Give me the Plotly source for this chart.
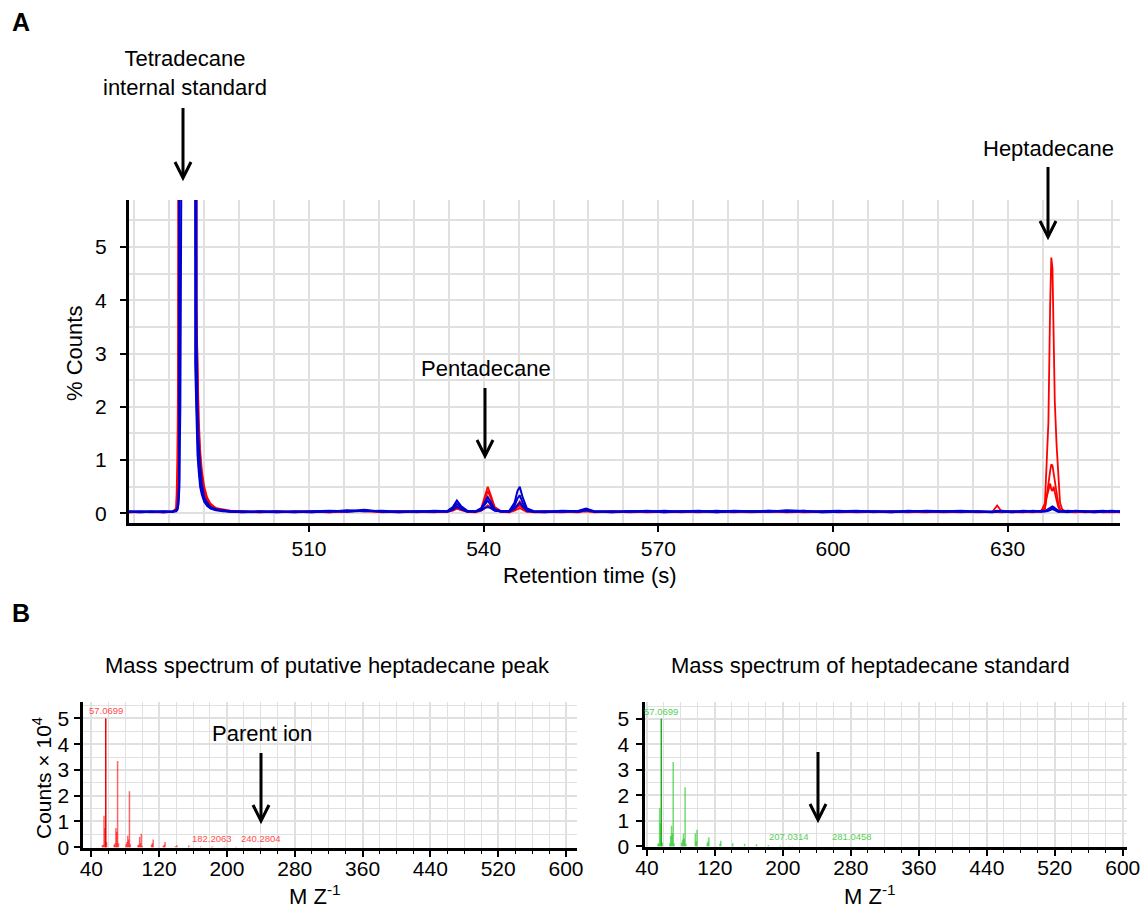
import plotly.graph_objects as go

W, H = 1145, 913
FONT = "Arial, 'Liberation Sans', sans-serif"
GRID = "#e0e0e0"


def px(x):
    return x / W


def py(y):
    return 1 - y / H


# ---------------- Panel A: chromatograms (% counts vs retention time) ----------------
time_s = [
    479.0, 481.0, 483.0, 485.0, 486.6, 487.2, 487.4, 487.55, 487.7, 487.9, 490.2, 490.45,
    490.65, 490.85, 491.05, 491.3, 491.6, 492.0, 492.5, 493.1, 494.0, 495.2, 496.5,
    498.5, 501.5, 504.5, 507.5, 510.5, 513.5, 516.5, 519.5, 522.5, 525.5, 528.5, 531.5,
    533.8, 534.7, 535.4, 536.1, 537.2, 538.6, 539.6, 540.2, 540.7, 541.2, 541.9, 543.0,
    544.4, 545.3, 545.8, 546.2, 546.7, 547.4, 548.6,
    550.5, 553.5, 556.3, 557.6, 559.0, 562.0, 565.0, 568.0, 571.0, 574.0, 577.0, 580.0,
    583.0, 586.0, 589.0, 592.0, 595.0, 598.0, 601.0, 604.0, 607.0, 610.0, 613.0, 616.0,
    619.0, 622.0, 625.0,
    627.4, 628.2, 629.0, 630.8, 632.6, 634.4, 635.8, 636.4, 636.7, 637.0, 637.3, 637.5,
    637.7, 637.9, 638.1, 638.4, 638.7, 639.0, 639.4, 640.2, 641.6, 643.2, 644.8, 646.4,
    648.0, 649.5,
]

red_1 = [
    0.02, 0.03, 0.02, 0.03, 0.03, 0.10, 1.00, 3.40, 60, 60, 60, 60,
    3.80, 2.40, 1.60, 1.00, 0.70, 0.40, 0.25, 0.16, 0.10, 0.07, 0.05,
    0.03, 0.02, 0.04, 0.02, 0.03, 0.02, 0.04, 0.05, 0.03, 0.02, 0.03, 0.02,
    0.04, 0.08, 0.14, 0.09, 0.04, 0.03, 0.10, 0.30, 0.50, 0.35, 0.12, 0.04,
    0.03, 0.08, 0.16, 0.22, 0.14, 0.06, 0.03,
    0.03, 0.02, 0.04, 0.05, 0.03, 0.02, 0.03, 0.04, 0.02, 0.03, 0.02, 0.04,
    0.03, 0.02, 0.03, 0.04, 0.02, 0.03, 0.04, 0.02, 0.03, 0.02, 0.04, 0.03,
    0.02, 0.03, 0.02,
    0.03, 0.15, 0.03, 0.02, 0.03, 0.02, 0.05, 0.19, 0.94, 1.70, 3.90, 4.80,
    4.60, 3.20, 2.10, 1.30, 0.60, 0.20, 0.07, 0.03, 0.02, 0.03, 0.02, 0.03,
    0.02, 0.03,
]
red_2 = [
    0.03, 0.02, 0.03, 0.02, 0.04, 0.08, 0.60, 2.50, 60, 60, 60, 60,
    3.00, 2.00, 1.30, 0.80, 0.50, 0.30, 0.20, 0.12, 0.08, 0.05, 0.03,
    0.02, 0.04, 0.02, 0.03, 0.02, 0.04, 0.03, 0.06, 0.02, 0.03, 0.02, 0.04,
    0.03, 0.07, 0.12, 0.08, 0.03, 0.04, 0.08, 0.25, 0.42, 0.30, 0.10, 0.03,
    0.04, 0.06, 0.12, 0.15, 0.10, 0.04, 0.02,
    0.02, 0.04, 0.03, 0.04, 0.02, 0.03, 0.04, 0.02, 0.03, 0.04, 0.03, 0.02,
    0.04, 0.03, 0.05, 0.02, 0.03, 0.04, 0.02, 0.03, 0.04, 0.03, 0.02, 0.04,
    0.03, 0.02, 0.04,
    0.02, 0.04, 0.03, 0.03, 0.02, 0.04, 0.04, 0.10, 0.30, 0.55, 0.80, 0.92,
    0.90, 0.75, 0.60, 0.38, 0.18, 0.08, 0.04, 0.03, 0.04, 0.02, 0.03, 0.04,
    0.03, 0.02,
]
red_3 = [
    0.02, 0.03, 0.03, 0.02, 0.03, 0.06, 0.30, 1.20, 60, 60, 60, 60,
    3.90, 2.60, 1.80, 1.20, 0.80, 0.50, 0.30, 0.18, 0.10, 0.06, 0.04,
    0.04, 0.02, 0.03, 0.03, 0.04, 0.02, 0.05, 0.04, 0.03, 0.04, 0.03, 0.03,
    0.03, 0.05, 0.09, 0.06, 0.03, 0.02, 0.05, 0.10, 0.15, 0.12, 0.06, 0.03,
    0.02, 0.05, 0.08, 0.10, 0.07, 0.03, 0.03,
    0.04, 0.03, 0.02, 0.06, 0.03, 0.04, 0.02, 0.03, 0.04, 0.02, 0.04, 0.03,
    0.02, 0.04, 0.03, 0.03, 0.05, 0.02, 0.03, 0.04, 0.02, 0.04, 0.03, 0.02,
    0.04, 0.03, 0.03,
    0.03, 0.03, 0.02, 0.04, 0.03, 0.03, 0.03, 0.08, 0.30, 0.45, 0.56, 0.45,
    0.42, 0.50, 0.42, 0.25, 0.12, 0.05, 0.03, 0.04, 0.03, 0.03, 0.04, 0.02,
    0.03, 0.03,
]
blue_1 = [
    0.03, 0.04, 0.03, 0.03, 0.04, 0.06, 0.10, 0.30, 0.60, 60, 60, 2.80,
    1.60, 1.10, 0.80, 0.50, 0.35, 0.22, 0.15, 0.10, 0.07, 0.05, 0.04,
    0.04, 0.03, 0.02, 0.04, 0.03, 0.03, 0.06, 0.04, 0.05, 0.03, 0.04, 0.03,
    0.05, 0.12, 0.24, 0.14, 0.05, 0.04, 0.10, 0.22, 0.31, 0.22, 0.08, 0.04,
    0.05, 0.20, 0.42, 0.50, 0.30, 0.10, 0.04,
    0.04, 0.03, 0.05, 0.09, 0.04, 0.03, 0.04, 0.03, 0.05, 0.03, 0.04, 0.03,
    0.05, 0.04, 0.03, 0.06, 0.04, 0.03, 0.04, 0.05, 0.03, 0.04, 0.03, 0.05,
    0.04, 0.03, 0.04,
    0.04, 0.03, 0.05, 0.03, 0.04, 0.03, 0.05, 0.04, 0.06, 0.08, 0.10, 0.12,
    0.13, 0.12, 0.10, 0.07, 0.05, 0.04, 0.03, 0.05, 0.04, 0.03, 0.04, 0.05,
    0.03, 0.04,
]
blue_2 = [
    0.04, 0.03, 0.04, 0.02, 0.03, 0.05, 0.08, 0.15, 0.40, 2.00, 60, 60,
    3.50, 2.00, 1.30, 0.90, 0.55, 0.30, 0.20, 0.12, 0.08, 0.06, 0.03,
    0.03, 0.04, 0.03, 0.02, 0.04, 0.05, 0.04, 0.07, 0.03, 0.04, 0.03, 0.05,
    0.04, 0.10, 0.18, 0.11, 0.04, 0.03, 0.08, 0.18, 0.24, 0.16, 0.06, 0.03,
    0.04, 0.14, 0.28, 0.34, 0.20, 0.07, 0.03,
    0.03, 0.05, 0.04, 0.07, 0.03, 0.04, 0.03, 0.05, 0.03, 0.04, 0.03, 0.05,
    0.03, 0.04, 0.05, 0.04, 0.03, 0.04, 0.05, 0.03, 0.04, 0.03, 0.05, 0.03,
    0.04, 0.05, 0.03,
    0.03, 0.05, 0.03, 0.04, 0.03, 0.05, 0.03, 0.04, 0.05, 0.06, 0.08, 0.09,
    0.10, 0.09, 0.07, 0.05, 0.04, 0.03, 0.05, 0.03, 0.05, 0.04, 0.03, 0.04,
    0.05, 0.03,
]
blue_3 = [
    0.03, 0.02, 0.03, 0.04, 0.03, 0.04, 0.07, 0.20, 0.50, 60, 60, 60,
    2.20, 1.30, 0.90, 0.60, 0.40, 0.25, 0.14, 0.09, 0.06, 0.04, 0.03,
    0.02, 0.03, 0.04, 0.03, 0.02, 0.04, 0.03, 0.05, 0.04, 0.02, 0.04, 0.03,
    0.03, 0.07, 0.12, 0.08, 0.03, 0.04, 0.06, 0.10, 0.12, 0.10, 0.05, 0.04,
    0.03, 0.09, 0.16, 0.20, 0.13, 0.05, 0.03,
    0.02, 0.04, 0.03, 0.06, 0.04, 0.02, 0.04, 0.04, 0.02, 0.04, 0.05, 0.02,
    0.04, 0.03, 0.04, 0.03, 0.05, 0.02, 0.03, 0.04, 0.04, 0.02, 0.04, 0.04,
    0.03, 0.04, 0.03,
    0.02, 0.04, 0.04, 0.02, 0.05, 0.04, 0.04, 0.03, 0.04, 0.05, 0.06, 0.07,
    0.08, 0.07, 0.06, 0.05, 0.03, 0.04, 0.04, 0.02, 0.04, 0.04, 0.02, 0.03,
    0.04, 0.04,
]

time_ticks = [510, 540, 570, 600, 630]

# ---------------- Panel B: mass spectra (counts x 10^4 vs m/z) ----------------
mz_sample = [53, 54, 55, 56, 57, 58, 67, 68, 69, 70, 71, 72, 81, 82, 83, 84, 85, 86,
             95, 96, 97, 98, 99, 100, 111, 112, 113, 125, 126, 127, 139, 141, 155,
             169, 182, 183, 197, 211, 240]
int_sample = [0.08, 0.10, 1.22, 0.75, 5.00, 0.20, 0.10, 0.15, 0.75, 0.60, 3.35, 0.15,
              0.12, 0.20, 0.45, 0.30, 2.17, 0.12, 0.08, 0.10, 0.40, 0.15, 0.52, 0.05,
              0.10, 0.15, 0.30, 0.06, 0.10, 0.20, 0.04, 0.08, 0.07, 0.03, 0.02, 0.02,
              0.02, 0.015, 0.01]
labels_sample = [(57.0699, 5.00, "57.0699"), (182.2063, 0.06, "182.2063"),
                 (240.2804, 0.06, "240.2804")]

mz_standard = [53, 54, 55, 56, 57, 58, 67, 68, 69, 70, 71, 72, 81, 82, 83, 84, 85, 86,
               97, 98, 99, 111, 112, 113, 126, 127, 141, 155, 169, 183, 197, 207,
               211, 281]
int_standard = [0.10, 0.12, 1.49, 0.90, 5.00, 0.15, 0.12, 0.40, 0.80, 0.50, 3.31, 0.12,
                0.15, 0.25, 0.50, 0.30, 2.31, 0.10, 0.50, 0.20, 0.65, 0.12, 0.20, 0.35,
                0.10, 0.22, 0.12, 0.10, 0.08, 0.05, 0.03, 0.02, 0.02, 0.01]
labels_standard = [(57.0699, 5.00, "57.0699"), (207.0314, 0.08, "207.0314"),
                   (281.0458, 0.08, "281.0458")]

fig = go.Figure()

red_series = [red_1, red_2, red_3]
blue_series = [blue_1, blue_2, blue_3]
for ys in red_series:
    fig.add_trace(go.Scatter(x=time_s, y=ys, mode="lines", xaxis="x", yaxis="y",
                             line=dict(color="#ff0000", width=1.8), showlegend=False,
                             hoverinfo="skip"))
for ys in blue_series:
    fig.add_trace(go.Scatter(x=time_s, y=ys, mode="lines", xaxis="x", yaxis="y",
                             line=dict(color="#0000d2", width=2), showlegend=False,
                             hoverinfo="skip"))


def sticks(mz, inten):
    xs, ys = [], []
    for m, v in zip(mz, inten):
        xs += [m, m, None]
        ys += [0, v, None]
    return xs, ys


for mz, inten, col_soft, col_solid, xa, ya in [
    (mz_sample, int_sample, "rgba(255,0,0,0.6)", "#e00000", "x2", "y2"),
    (mz_standard, int_standard, "rgba(40,200,40,0.65)", "#1fa81f", "x3", "y3"),
]:
    xs, ys = sticks(mz, inten)
    fig.add_trace(go.Scatter(x=xs, y=ys, mode="lines", xaxis=xa, yaxis=ya,
                             line=dict(color=col_soft, width=1.5), showlegend=False,
                             hoverinfo="skip"))
    base = inten.index(max(inten))
    bx, by = sticks([mz[base]], [inten[base]])
    fig.add_trace(go.Scatter(x=bx, y=by, mode="lines", xaxis=xa, yaxis=ya,
                             line=dict(color=col_solid, width=1.2), showlegend=False,
                             hoverinfo="skip"))

tickfont = dict(family=FONT, size=21, color="black")
common_axis = dict(showline=True, linecolor="black", linewidth=3, ticks="outside",
                   tickcolor="black", tickwidth=2, ticklen=6, zeroline=False,
                   showgrid=True, gridcolor=GRID, gridwidth=1.5, tickfont=tickfont,
                   automargin=False)

layout = dict(
    width=W, height=H, margin=dict(l=0, r=0, t=0, b=0, autoexpand=False),
    paper_bgcolor="white", plot_bgcolor="white", showlegend=False,
    font=dict(family=FONT, color="black"),
    xaxis=dict(domain=[px(129), px(1120)], range=[479.08, 649.3], anchor="y",
               tickmode="array", tickvals=time_ticks, ticklabelstandoff=-1,
               minor=dict(tick0=480, dtick=6, showgrid=True, gridcolor=GRID,
                          gridwidth=1.5, ticks=""),
               **common_axis),
    yaxis=dict(domain=[py(523), py(200)], range=[-0.18, 5.88], anchor="x",
               tickmode="linear", tick0=0, dtick=1, ticklabelstandoff=9,
               minor=dict(tick0=0, dtick=0.5, showgrid=True, gridcolor=GRID,
                          gridwidth=1.5, ticks=""),
               **common_axis),
    xaxis2=dict(domain=[px(82.5), px(577)], range=[29.6, 613], anchor="y2",
                tickmode="linear", tick0=40, dtick=80, ticklabelstandoff=-6,
                minor=dict(tick0=40, dtick=20, showgrid=True, gridcolor=GRID,
                           gridwidth=1.2, ticks="outside", ticklen=3,
                           tickcolor="black", tickwidth=1),
                **common_axis),
    yaxis2=dict(domain=[py(848), py(702)], range=[-0.03, 5.64], anchor="x2",
                tickmode="linear", tick0=0, dtick=1, ticklabelstandoff=0,
                minor=dict(tick0=0, dtick=0.5, showgrid=True, gridcolor=GRID,
                           gridwidth=1.2, ticks=""),
                **common_axis),
    xaxis3=dict(domain=[px(644.5), px(1127)], range=[37.2, 605], anchor="y3",
                tickmode="linear", tick0=40, dtick=80, ticklabelstandoff=-6,
                minor=dict(tick0=40, dtick=20, showgrid=True, gridcolor=GRID,
                           gridwidth=1.2, ticks="outside", ticklen=3,
                           tickcolor="black", tickwidth=1),
                **common_axis),
    yaxis3=dict(domain=[py(847), py(702)], range=[-0.03, 5.66], anchor="x3",
                tickmode="linear", tick0=0, dtick=1, ticklabelstandoff=2,
                minor=dict(tick0=0, dtick=0.5, showgrid=True, gridcolor=GRID,
                           gridwidth=1.2, ticks=""),
                **common_axis),
)
fig.update_layout(**layout)


def text(x, y, s, size=22, angle=0, bold=False, color="black", xanchor="center"):
    fig.add_annotation(x=px(x), y=py(y), xref="paper", yref="paper", text=s,
                       showarrow=False, textangle=angle, xanchor=xanchor, yanchor="middle",
                       font=dict(family=FONT, size=size, color=color,
                                 weight="bold" if bold else "normal"))


text(21, 22, "A", size=25, bold=True)
text(21, 613, "B", size=25, bold=True)
text(185, 73, "Tetradecane<br>internal standard")
text(486, 368, "Pentadecane")
text(1048, 148, "Heptadecane")
text(590, 575, "Retention time (s)")
text(74, 354, "% Counts", angle=-90)
text(327, 665, "Mass spectrum of putative heptadecane peak")
text(870, 665, "Mass spectrum of heptadecane standard")
text(262, 733, "Parent ion")
text(42, 778, "Counts × 10<sup>4</sup>", size=21, angle=-90)
text(315, 895, "M Z<sup>-1</sup>")
text(870, 895, "M Z<sup>-1</sup>")

for labels, xa, ya, col in [(labels_sample, "x2", "y2", "#ff4d4d"),
                            (labels_standard, "x3", "y3", "#55d055")]:
    for mzv, yv, s in labels:
        fig.add_annotation(x=mzv, y=yv, xref=xa, yref=ya, text=s, showarrow=False,
                           xanchor="center", yanchor="bottom", yshift=0,
                           font=dict(family=FONT, size=9.5, color=col))

# arrows (shaft + open V head), pixel positions
arrows = [(183, 108, 178), (485, 388, 456), (1048, 167, 237), (261, 753, 821),
          (818, 752, 820)]
for ax, y_top, y_tip in arrows:
    fig.add_shape(type="line", xref="paper", yref="paper",
                  x0=px(ax), x1=px(ax), y0=py(y_top), y1=py(y_tip - 2),
                  line=dict(color="black", width=3))
    fig.add_shape(type="path", xref="paper", yref="paper",
                  path=f"M {px(ax - 8)} {py(y_tip - 16)} L {px(ax)} {py(y_tip)} "
                       f"L {px(ax + 8)} {py(y_tip - 16)}",
                  line=dict(color="black", width=3))

fig.write_html("out.html")
